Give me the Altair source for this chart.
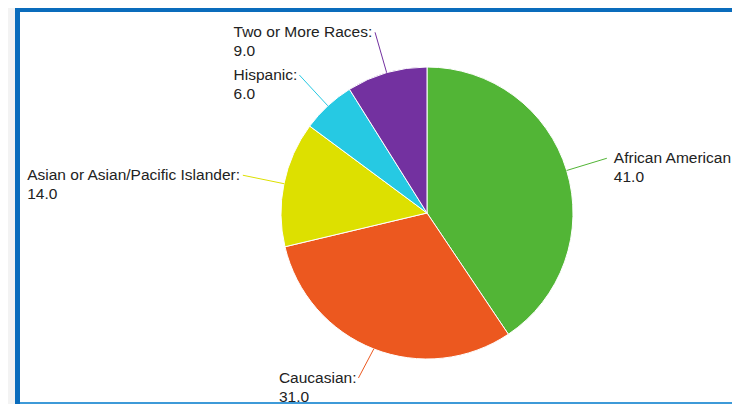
import altair as alt
import pandas as pd

# ---- data ----
categories = ["African American", "Caucasian", "Asian or Asian/Pacific Islander", "Hispanic", "Two or More Races"]
labels = ["African American", "Caucasian:", "Asian or Asian/Pacific Islander:", "Hispanic:", "Two or More Races:"]
values = [41.0, 31.0, 14.0, 6.0, 9.0]
colors = ["#52b536", "#ec581f", "#dde000", "#26c9e3", "#7331a0"]

# ---- layout constants (chart pixel space) ----
W, H = 724, 396
CX, CY = 419, 205      # pie centre
R = 146                # pie radius
D = 42                 # connector length
FONT = "Liberation Sans"
FS = 15.5
LINE = 19

# approximate Arial/Liberation Sans advance widths (per 1000 em)
_W = {" ": 278, ":": 278, "/": 278, "A": 667, "C": 722, "H": 722, "I": 278, "M": 833,
      "P": 667, "R": 722, "T": 611, "W": 944, "a": 556, "c": 500, "d": 556, "e": 556,
      "f": 278, "i": 222, "l": 222, "m": 833, "n": 556, "o": 556, "p": 556, "r": 333,
      "s": 500, "u": 556, "w": 722, "h": 556, "t": 278}


def text_width(s):
    return sum(_W.get(ch, 556) for ch in s) / 1000 * FS


df = pd.DataFrame({"category": categories, "name": labels, "value": values,
                   "idx": list(range(len(categories)))})
df["vtext"] = df["value"].map(lambda v: f"{v:.1f}")
df["w"] = df["name"].map(text_width)

color = alt.Color("category:N", scale=alt.Scale(domain=categories, range=colors), legend=None)

base = (
    alt.Chart(df)
    .transform_joinaggregate(total="sum(value)")
    .transform_window(cum="sum(value)", sort=[alt.SortField("idx")], frame=[None, 0])
    .transform_calculate(mid="2*PI*(datum.cum - datum.value/2)/datum.total")
    .transform_calculate(
        ex=f"{CX} + {R}*sin(datum.mid)",
        ey=f"{CY} - {R}*cos(datum.mid)",
        lx=f"{CX} + {R + D}*sin(datum.mid)",
        ly=f"min({CY} - {R + D}*cos(datum.mid), {H - LINE - 7})",
    )
    .transform_calculate(
        tx="sin(datum.mid) >= 0 ? datum.lx + 7 : datum.lx - 2 - datum.w",
        ty2=f"datum.ly + {LINE}",
    )
)

arcs = alt.Chart(df).mark_arc(radius=R, stroke="white", strokeWidth=1).encode(
    theta=alt.Theta("value:Q", stack=True),
    color=color,
    order=alt.Order("idx:Q"),
    x=alt.value(CX),
    y=alt.value(CY),
)

connectors = base.mark_rule(strokeWidth=1).encode(
    x=alt.X("ex:Q", scale=None, axis=None),
    y=alt.Y("ey:Q", scale=None, axis=None),
    x2="lx:Q",
    y2="ly:Q",
    color=color,
)

names = base.mark_text(align="left", baseline="middle", font=FONT, fontSize=FS, color="#222222").encode(
    x=alt.X("tx:Q", scale=None, axis=None),
    y=alt.Y("ly:Q", scale=None, axis=None),
    text="name:N",
)

vals = base.mark_text(align="left", baseline="middle", font=FONT, fontSize=FS, color="#222222").encode(
    x=alt.X("tx:Q", scale=None, axis=None),
    y=alt.Y("ty2:Q", scale=None, axis=None),
    text="vtext:N",
)

# frame decoration (screenshot border), drawn as rules
one = pd.DataFrame({"k": [0]})
gray_strip = alt.Chart(one).mark_rule(color="#f3f3f3", strokeWidth=7).encode(
    x=alt.value(3.5), y=alt.value(0), y2=alt.value(H))
left_bar = alt.Chart(one).mark_rule(color="#0a6cbc", strokeWidth=5).encode(
    x=alt.value(9.5), y=alt.value(0), y2=alt.value(H))
top_bar = alt.Chart(one).mark_rule(color="#0a6cbc", strokeWidth=4).encode(
    x=alt.value(7), x2=alt.value(W), y=alt.value(2))
bottom_line = alt.Chart(one).mark_rule(color="#3e9ad8", strokeWidth=2).encode(
    x=alt.value(12), x2=alt.value(W), y=alt.value(H - 1))

chart = (
    alt.layer(gray_strip, left_bar, top_bar, bottom_line, arcs, connectors, names, vals)
    .properties(width=W, height=H, autosize="none", padding=0, background="white")
    .configure_view(strokeWidth=0)
)

chart.save("out.html", embed_options={"renderer": "svg", "actions": False})
